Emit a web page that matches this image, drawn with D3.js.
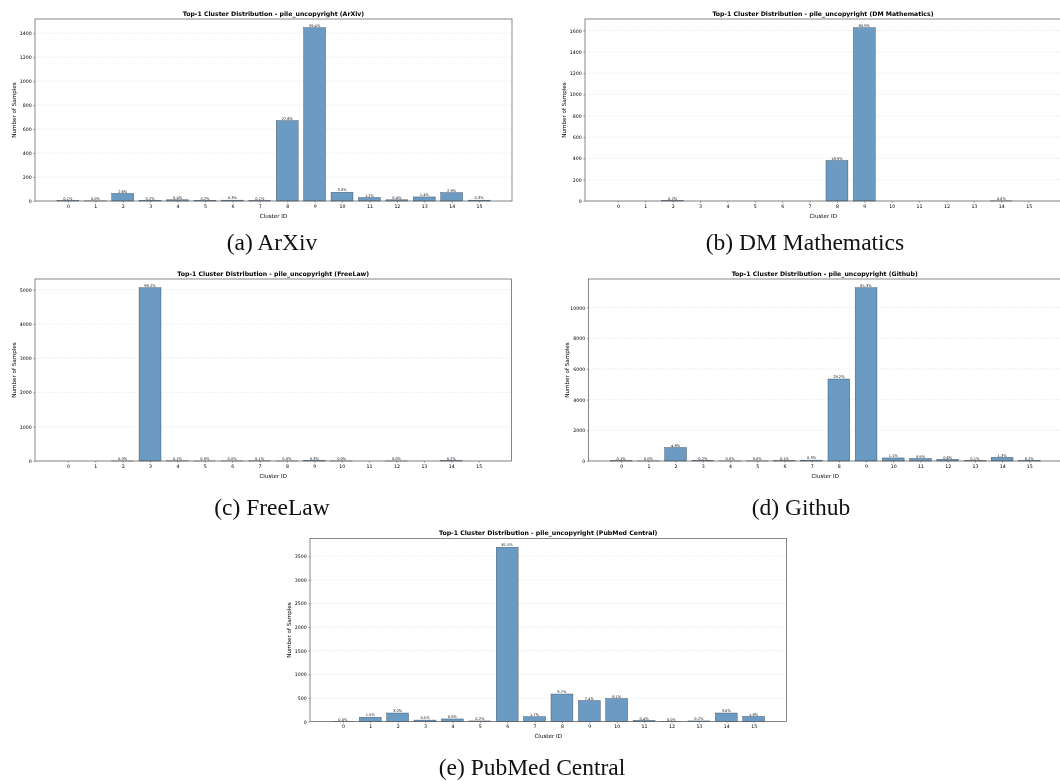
<!DOCTYPE html>
<html><head><meta charset="utf-8">
<script src="https://cdn.jsdelivr.net/npm/d3@7"></script>
<style>body{margin:0;background:#fff}svg{display:block}.txt{filter:grayscale(100%)}</style>
</head><body>
<svg id="fig" width="1060" height="781"></svg>
<script>
// ---- data ----
const clusterIds = [0,1,2,3,4,5,6,7,8,9,10,11,12,13,14,15];

const arxivCounts = [3,1,63,5,10,5,7,3,671,1447,73,29,10,34,70,7];
const arxivPct = ["0.1%","0.0%","2.6%","0.2%","0.4%","0.2%","0.3%","0.1%","27.6%","59.4%","3.0%","1.2%","0.4%","1.4%","2.9%","0.3%"];

const dmCounts = [0,0,4,0,0,0,0,0,380,1627,0,0,0,0,1,0];
const dmPct = ["","","0.2%","","","","","","18.9%","80.9%","","","","","0.0%",""];

const freeLawCounts = [0,0,1,5058,5,1,2,5,1,15,2,0,1,0,10,0];
const freeLawPct = ["","","0.0%","99.2%","0.1%","0.0%","0.0%","0.1%","0.0%","0.3%","0.0%","","0.0%","","0.2%",""];

const githubCounts = [18,5,880,37,4,6,20,55,5345,11300,200,165,110,20,240,35];
const githubPct = ["0.1%","0.0%","4.8%","0.2%","0.0%","0.0%","0.1%","0.3%","29.2%","61.3%","1.1%","0.9%","0.6%","0.1%","1.3%","0.2%"];

const pubmedCounts = [2,90,180,30,54,12,3692,102,582,444,486,24,2,12,180,108];
const pubmedPct = ["0.0%","1.5%","3.0%","0.5%","0.9%","0.2%","61.5%","1.7%","9.7%","7.4%","8.1%","0.4%","0.0%","0.2%","3.0%","1.8%"];

const arxivTicks = [0,200,400,600,800,1000,1200,1400];
const dmTicks = [0,200,400,600,800,1000,1200,1400,1600];
const freeLawTicks = [0,1000,2000,3000,4000,5000];
const githubTicks = [0,2000,4000,6000,8000,10000];
const pubmedTicks = [0,500,1000,1500,2000,2500,3000,3500];

const titlePrefix = "Top-1 Cluster Distribution - pile_uncopyright";
const xLabel = "Cluster ID";
const yLabel = "Number of Samples";

// ---- layout ----
const panels = [
  {name:"ArXiv", caption:"(a) ArXiv", counts:arxivCounts, pct:arxivPct, ticks:arxivTicks,
   x0:35, x1:512, y0:19, y1:201, capX:272, capY:250},
  {name:"DM Mathematics", caption:"(b) DM Mathematics", counts:dmCounts, pct:dmPct, ticks:dmTicks,
   x0:585, x1:1061.5, y0:19, y1:201, capX:805, capY:250},
  {name:"FreeLaw", caption:"(c) FreeLaw", counts:freeLawCounts, pct:freeLawPct, ticks:freeLawTicks,
   x0:35, x1:511.5, y0:279, y1:461, capX:272, capY:515},
  {name:"Github", caption:"(d) Github", counts:githubCounts, pct:githubPct, ticks:githubTicks,
   x0:588.5, x1:1062, y0:279, y1:461, capX:801, capY:515},
  {name:"PubMed Central", caption:"(e) PubMed Central", counts:pubmedCounts, pct:pubmedPct, ticks:pubmedTicks,
   x0:310, x1:786.5, y0:538.5, y1:721.5, capX:532, capY:775}
];

const svg = d3.select("#fig");
const FONT = "'DejaVu Sans', sans-serif";

panels.forEach(p => {
  const g = svg.append("g");
  const x = d3.scaleLinear().domain([-1.2, 16.2]).range([p.x0, p.x1]);
  const y = d3.scaleLinear().domain([0, d3.max(p.counts) * 1.05]).range([p.y1, p.y0]);

  // grid
  g.append("g").selectAll("line").data(p.ticks).join("line")
    .attr("x1", p.x0).attr("x2", p.x1)
    .attr("y1", d => y(d)).attr("y2", d => y(d))
    .attr("stroke", "#dedede").attr("stroke-width", 0.5)
    .attr("stroke-dasharray", "2,1.2");

  // bars
  const data = clusterIds.map((c, i) => ({c, v: p.counts[i], t: p.pct[i]}));
  g.append("g").selectAll("rect").data(data.filter(d => d.v > 0)).join("rect")
    .attr("x", d => x(d.c - 0.4))
    .attr("width", d => x(d.c + 0.4) - x(d.c - 0.4))
    .attr("y", d => y(d.v))
    .attr("height", d => y(0) - y(d.v))
    .attr("fill", "#6b9bc3")
    .attr("stroke", "#2f3f50").attr("stroke-width", 0.45).attr("stroke-opacity", 0.85);

  const tg = g.append("g").attr("class", "txt");

  // percent labels
  tg.append("g").selectAll("text").data(data.filter(d => d.t)).join("text")
    .attr("x", d => x(d.c)).attr("y", d => y(d.v) - 0.8)
    .attr("text-anchor", "middle")
    .attr("font-family", FONT).attr("font-size", 3.6).attr("fill", "#111")
    .text(d => d.t);

  // frame
  g.append("rect").attr("x", p.x0).attr("y", p.y0)
    .attr("width", p.x1 - p.x0).attr("height", p.y1 - p.y0)
    .attr("fill", "none").attr("stroke", "#555").attr("stroke-width", 0.7);

  // axes
  const ax = d3.axisBottom(x).tickValues(clusterIds).tickSize(1.8).tickPadding(1.5).tickFormat(d3.format("d"));
  const gx = tg.append("g").attr("transform", `translate(0,${p.y1})`).call(ax);
  const ay = d3.axisLeft(y).tickValues(p.ticks).tickSize(1.8).tickPadding(1.5).tickFormat(d3.format("d"));
  const gy = tg.append("g").attr("transform", `translate(${p.x0},0)`).call(ay);
  [gx, gy].forEach(a => {
    a.select(".domain").remove();
    a.selectAll(".tick line").attr("stroke", "#555").attr("stroke-width", 0.5);
    a.selectAll(".tick text").attr("font-family", FONT).attr("font-size", 4.7).attr("fill", "#000");
  });

  // axis labels
  tg.append("text").attr("x", (p.x0 + p.x1) / 2).attr("y", p.y1 + 16.5)
    .attr("text-anchor", "middle").attr("font-family", FONT).attr("font-size", 5.6).attr("fill", "#000")
    .text(xLabel);
  tg.append("text")
    .attr("transform", `translate(${p.x0 - 19.5},${(p.y0 + p.y1) / 2}) rotate(-90)`)
    .attr("text-anchor", "middle").attr("font-family", FONT).attr("font-size", 5.6).attr("fill", "#000")
    .text(yLabel);

  // title
  tg.append("text").attr("x", (p.x0 + Math.min(p.x1, 1061)) / 2).attr("y", p.y0 - 3.5)
    .attr("text-anchor", "middle").attr("font-family", FONT).attr("font-weight", "bold")
    .attr("font-size", 6.2).attr("fill", "#000")
    .text(`${titlePrefix} (${p.name})`);

  // caption
  svg.append("text").attr("class", "txt").attr("x", p.capX).attr("y", p.capY)
    .attr("text-anchor", "middle").attr("font-family", "'Liberation Serif', serif")
    .attr("font-size", 23.5).attr("fill", "#111")
    .text(p.caption);
});
</script>
</body></html>
